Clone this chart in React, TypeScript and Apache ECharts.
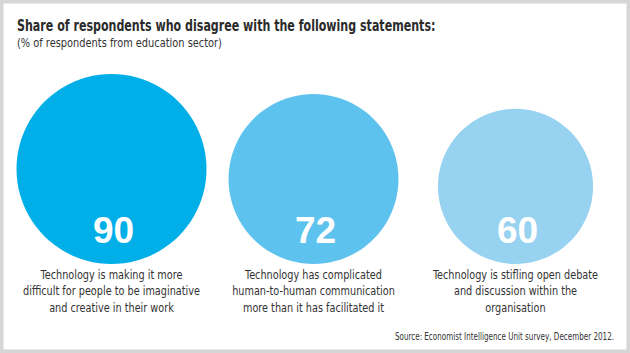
import React, { useEffect, useRef } from "react";
import * as echarts from "echarts";

const statements = [
  "Technology is making it more\ndifficult for people to be imaginative\nand creative in their work",
  "Technology has complicated\nhuman-to-human communication\nmore than it has facilitated it",
  "Technology is stifling open debate\nand discussion within the\norganisation",
];
const shares = [90, 72, 60];
const colors = ["#00AEE8", "#5EC2EE", "#98D2F1"];
const titleText = "Share of respondents who disagree with the following statements:";
const subtitleText = "(% of respondents from education sector)";
const sourceText = "Source: Economist Intelligence Unit survey, December 2012.";

const MAX_DIAMETER = 190;
const MAX_VALUE = 90;

export default function App() {
  const ref = useRef<HTMLDivElement>(null);
  useEffect(() => {
    document.body.style.margin = "0";
    const chart = echarts.init(ref.current!, null, { renderer: "svg" });
    const condensed = "'DejaVu Sans Condensed', 'DejaVu Sans', sans-serif";
    chart.setOption({
      animation: false,
      backgroundColor: "#ffffff",
      graphic: [
        {
          type: "rect",
          shape: { x: 0, y: 0, width: 630, height: 353 },
          style: { fill: "none", stroke: "#d6d6d6", lineWidth: 7 },
          silent: true,
        },
        {
          type: "text",
          x: 17,
          y: 25,
          scaleX: 0.77,
          style: {
            text: titleText,
            fontFamily: condensed,
            fontSize: 16,
            fontWeight: "bold",
            fill: "#2b2b2b",
            verticalAlign: "middle",
          },
        },
        {
          type: "text",
          x: 17,
          y: 43,
          scaleX: 0.91,
          style: {
            text: subtitleText,
            fontFamily: condensed,
            fontSize: 12,
            fill: "#333333",
            verticalAlign: "middle",
          },
        },
        {
          type: "text",
          x: 614,
          y: 337,
          scaleX: 0.8,
          style: {
            text: sourceText,
            fontFamily: condensed,
            fontSize: 10,
            fill: "#333333",
            align: "right",
            verticalAlign: "middle",
          },
        },
      ],
      grid: { left: 10.5, right: 13.5, top: 70, bottom: 89, containLabel: false },
      xAxis: {
        type: "category",
        data: statements,
        axisLine: { show: false },
        axisTick: { show: false },
        axisLabel: { show: false },
      },
      yAxis: { type: "value", min: 0, max: 1, show: false },
      series: [
        {
          type: "custom",
          data: shares.map((v, i) => [i, v]),
          renderItem: (params: any, api: any) => {
            const idx = api.value(0);
            const v = api.value(1);
            const [cx, by] = api.coord([idx, 0]);
            const r = (MAX_DIAMETER / 2) * Math.sqrt(v / MAX_VALUE);
            return {
              type: "group",
              children: [
                {
                  type: "circle",
                  shape: { cx, cy: by - r, r },
                  style: { fill: colors[params.dataIndex] },
                },
                {
                  type: "text",
                  x: cx + 2,
                  y: by - 34,
                  style: {
                    text: String(v),
                    fill: "#ffffff",
                    fontFamily: "'Liberation Sans', Arial, sans-serif",
                    fontWeight: "bold",
                    fontSize: 37,
                    align: "center",
                    verticalAlign: "middle",
                  },
                },
                {
                  type: "text",
                  x: cx,
                  y: by + 2,
                  scaleX: 0.83,
                  style: {
                    text: statements[params.dataIndex],
                    fill: "#333333",
                    fontFamily: condensed,
                    fontSize: 13,
                    lineHeight: 16.5,
                    align: "center",
                    verticalAlign: "top",
                  },
                },
              ],
            };
          },
        },
      ],
    });
    return () => chart.dispose();
  }, []);
  return <div ref={ref} style={{ width: 630, height: 353 }} />;
}
